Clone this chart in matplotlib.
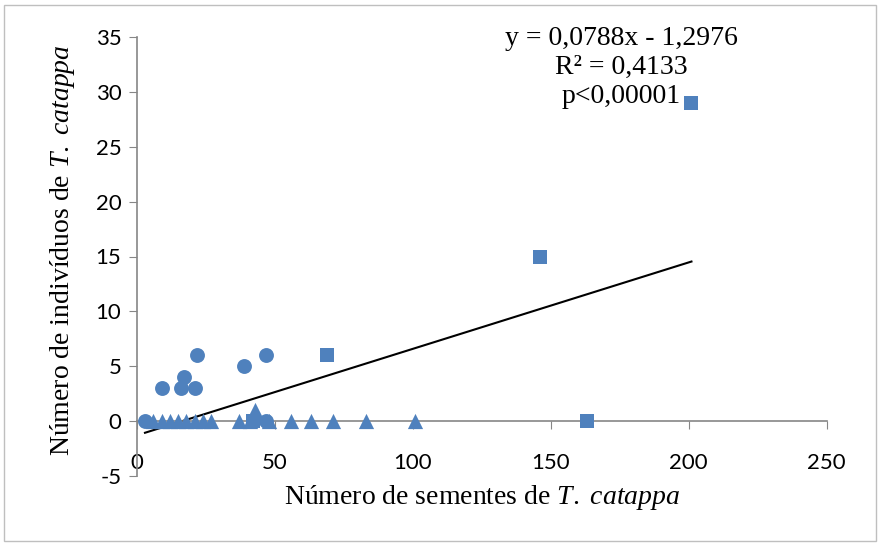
import matplotlib.pyplot as plt
from matplotlib.patches import Rectangle

plt.rcParams['mathtext.fontset'] = 'custom'
plt.rcParams['mathtext.rm'] = 'Liberation Serif'
plt.rcParams['mathtext.it'] = 'Liberation Serif:italic'
plt.rcParams['font.family'] = 'Lato'
plt.rcParams['axes.unicode_minus'] = False

# data
circle_x = [3, 9, 16, 17, 21, 22, 39, 47, 47]
circle_y = [0, 3, 3, 4, 3, 6, 5, 6, 0]
tri_x = [6, 9, 12, 15, 18, 21, 24, 27, 37, 41, 43, 48, 56, 63, 71, 83, 101]
tri_y = [0, 0, 0, 0, 0, 0, 0, 0, 0, 0, 1, 0, 0, 0, 0, 0, 0]
sq_x = [42, 69, 146, 163, 201]
sq_y = [0, 6, 15, 0, 29]
slope, intercept = 0.0788, -1.2976
x_ticks = [0, 50, 100, 150, 200, 250]
y_ticks = [-5, 0, 5, 10, 15, 20, 25, 30, 35]

blue = '#4F81BD'
grey = '#868686'
serif = 'Liberation Serif'

fig = plt.figure(figsize=(8.79, 5.45), dpi=100)
fig.patches.append(Rectangle((0.005, 0.008), 0.992, 0.983, transform=fig.transFigure,
                             fill=False, edgecolor='#BFBFBF', linewidth=1))
ax = fig.add_axes([136.7/879, 1-476/545, (826.7-136.7)/879, (476-37)/545])

ax.spines['top'].set_visible(False)
ax.spines['right'].set_visible(False)
ax.spines['bottom'].set_position(('data', 0))
for s in ['left', 'bottom']:
    ax.spines[s].set_color(grey)
    ax.spines[s].set_linewidth(1.2)

ax.scatter(circle_x, circle_y, marker='o', s=115, color=blue, zorder=3, linewidths=0)
ax.scatter(tri_x, tri_y, marker='^', s=120, color=blue, zorder=3, linewidths=0)
ax.scatter(sq_x, sq_y, marker='s', s=90, color=blue, zorder=3, linewidths=0)

all_x = circle_x + tri_x + sq_x
xl = [min(all_x), max(all_x)]
ax.plot(xl, [slope*v + intercept for v in xl], color='black', linewidth=1.5, zorder=2)

ax.set_xlim(0, 250)
ax.set_ylim(-5, 35)
ax.set_xticks(x_ticks)
ax.set_yticks(y_ticks)
ax.tick_params(axis='x', direction='out', length=6, color=grey, pad=17, labelsize=16)
ax.tick_params(axis='y', direction='out', length=6, color=grey, pad=5, labelsize=16)

ax.set_xlabel('Número de sementes de $\\mathit{T.\\ catappa}$', fontfamily=serif,
              fontsize=20, va='center')
ax.xaxis.set_label_coords(0.5, -0.048)
ax.set_ylabel('Número de indivíduos de $\\mathit{T.\\ catappa}$', fontfamily=serif,
              fontsize=20, va='center')
ax.yaxis.set_label_coords(-0.108, 0.515)

ax.text(0.702, 1.025, 'y = 0,0788x - 1,2976\nR² = 0,4133\np<0,00001',
        transform=ax.transAxes, ha='center', va='top', fontfamily=serif,
        fontsize=20, linespacing=1.2)

fig.savefig('out.png', dpi=100)
